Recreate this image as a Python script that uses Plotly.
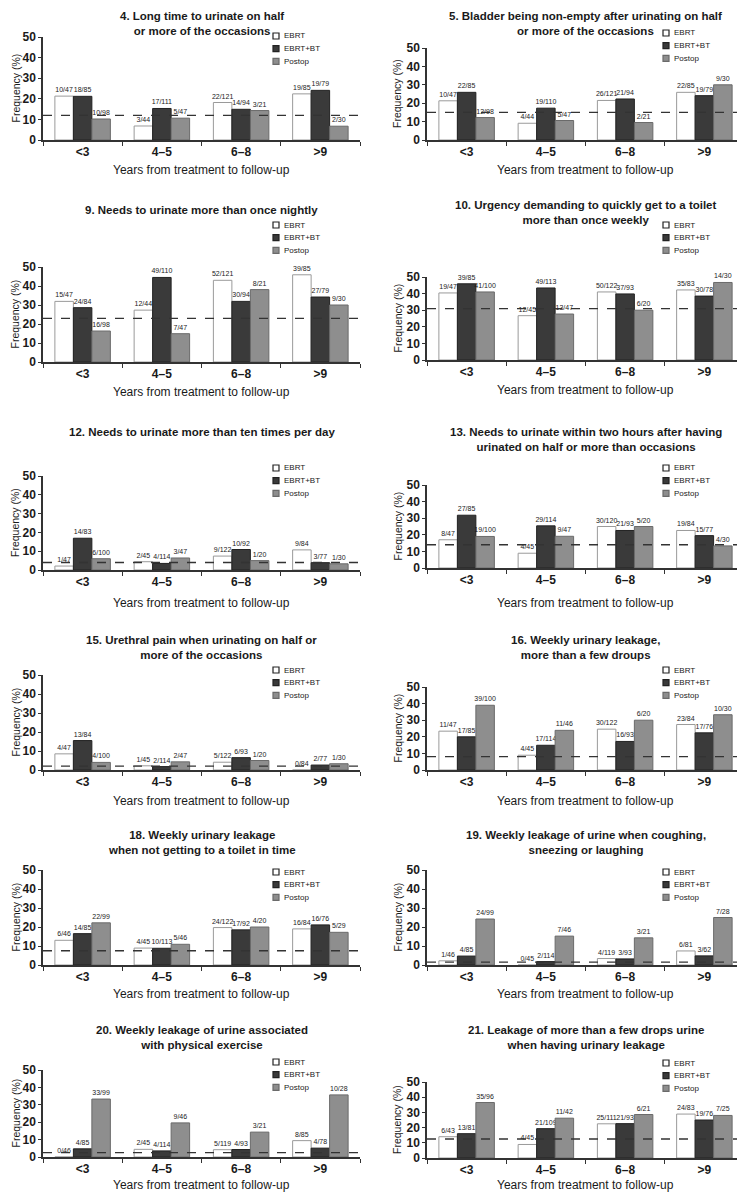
import plotly.graph_objects as go
from plotly.subplots import make_subplots

categories = ["<3", "4–5", "6–8", ">9"]
series_names = ["EBRT", "EBRT+BT", "Postop"]

# 4. Long time to urinate
q4_ebrt = [21.3, 6.8, 18.2, 22.4]
q4_ebrt_bt = [21.2, 15.3, 14.9, 24.1]
q4_postop = [10.2, 10.6, 14.3, 6.7]
q4_lab_ebrt = ["10/47", "3/44", "22/121", "19/85"]
q4_lab_ebrt_bt = ["18/85", "17/111", "14/94", "19/79"]
q4_lab_postop = ["10/98", "5/47", "3/21", "2/30"]
q4_ref = 12

# 5. Bladder non-empty
q5_ebrt = [21.3, 9.1, 21.5, 25.9]
q5_ebrt_bt = [25.9, 17.3, 22.3, 24.1]
q5_postop = [12.2, 10.6, 9.5, 30.0]
q5_lab_ebrt = ["10/47", "4/44", "26/121", "22/85"]
q5_lab_ebrt_bt = ["22/85", "19/110", "21/94", "19/79"]
q5_lab_postop = ["12/98", "5/47", "2/21", "9/30"]
q5_ref = 15

# 9. More than once nightly
q9_ebrt = [31.9, 27.3, 43.0, 45.9]
q9_ebrt_bt = [28.6, 44.5, 31.9, 34.2]
q9_postop = [16.3, 14.9, 38.1, 30.0]
q9_lab_ebrt = ["15/47", "12/44", "52/121", "39/85"]
q9_lab_ebrt_bt = ["24/84", "49/110", "30/94", "27/79"]
q9_lab_postop = ["16/98", "7/47", "8/21", "9/30"]
q9_ref = 23

# 10. Urgency
q10_ebrt = [40.4, 26.7, 41.0, 42.2]
q10_ebrt_bt = [45.9, 43.4, 39.8, 38.5]
q10_postop = [41.0, 27.7, 30.0, 46.7]
q10_lab_ebrt = ["19/47", "12/45", "50/122", "35/83"]
q10_lab_ebrt_bt = ["39/85", "49/113", "37/93", "30/78"]
q10_lab_postop = ["41/100", "13/47", "6/20", "14/30"]
q10_ref = 31

# 12. More than ten times per day
q12_ebrt = [2.1, 4.4, 7.4, 10.7]
q12_ebrt_bt = [16.9, 3.5, 10.9, 3.9]
q12_postop = [6.0, 6.4, 5.0, 3.3]
q12_lab_ebrt = ["1/47", "2/45", "9/122", "9/84"]
q12_lab_ebrt_bt = ["14/83", "4/114", "10/92", "3/77"]
q12_lab_postop = ["6/100", "3/47", "1/20", "1/30"]
q12_ref = 4

# 13. Within two hours
q13_ebrt = [17.0, 8.9, 25.0, 22.6]
q13_ebrt_bt = [31.8, 25.4, 22.6, 19.5]
q13_postop = [19.0, 19.1, 25.0, 13.3]
q13_lab_ebrt = ["8/47", "4/45", "30/120", "19/84"]
q13_lab_ebrt_bt = ["27/85", "29/114", "21/93", "15/77"]
q13_lab_postop = ["19/100", "9/47", "5/20", "4/30"]
q13_ref = 14

# 15. Urethral pain
q15_ebrt = [8.5, 2.2, 4.1, 0.0]
q15_ebrt_bt = [15.5, 1.8, 6.5, 2.6]
q15_postop = [4.0, 4.3, 5.0, 3.3]
q15_lab_ebrt = ["4/47", "1/45", "5/122", "0/84"]
q15_lab_ebrt_bt = ["13/84", "2/114", "6/93", "2/77"]
q15_lab_postop = ["4/100", "2/47", "1/20", "1/30"]
q15_ref = 2

# 16. Weekly leakage, more than a few droups
q16_ebrt = [23.4, 8.9, 24.6, 27.4]
q16_ebrt_bt = [20.0, 14.9, 17.2, 22.4]
q16_postop = [39.0, 23.9, 30.0, 33.3]
q16_lab_ebrt = ["11/47", "4/45", "30/122", "23/84"]
q16_lab_ebrt_bt = ["17/85", "17/114", "16/93", "17/76"]
q16_lab_postop = ["39/100", "11/46", "6/20", "10/30"]
q16_ref = 8

# 18. Not getting to a toilet in time
q18_ebrt = [13.0, 8.9, 19.7, 19.0]
q18_ebrt_bt = [16.5, 8.8, 18.5, 21.1]
q18_postop = [22.2, 10.9, 20.0, 17.2]
q18_lab_ebrt = ["6/46", "4/45", "24/122", "16/84"]
q18_lab_ebrt_bt = ["14/85", "10/113", "17/92", "16/76"]
q18_lab_postop = ["22/99", "5/46", "4/20", "5/29"]
q18_ref = 7.5

# 19. Coughing, sneezing or laughing
q19_ebrt = [2.2, 0.0, 3.4, 7.4]
q19_ebrt_bt = [4.7, 1.8, 3.2, 4.8]
q19_postop = [24.2, 15.2, 14.3, 25.0]
q19_lab_ebrt = ["1/46", "0/45", "4/119", "6/81"]
q19_lab_ebrt_bt = ["4/85", "2/114", "3/93", "3/62"]
q19_lab_postop = ["24/99", "7/46", "3/21", "7/28"]
q19_ref = 1.5

# 20. Physical exercise
q20_ebrt = [0.0, 4.4, 4.2, 9.4]
q20_ebrt_bt = [4.7, 3.5, 4.3, 5.1]
q20_postop = [33.3, 19.6, 14.3, 35.7]
q20_lab_ebrt = ["0/46", "2/45", "5/119", "8/85"]
q20_lab_ebrt_bt = ["4/85", "4/114", "4/93", "4/78"]
q20_lab_postop = ["33/99", "9/46", "3/21", "10/28"]
q20_ref = 2.5

# 21. More than a few drops
q21_ebrt = [14.0, 8.9, 22.5, 28.9]
q21_ebrt_bt = [16.0, 19.3, 22.6, 25.0]
q21_postop = [36.5, 26.2, 28.6, 28.0]
q21_lab_ebrt = ["6/43", "4/45", "25/111", "24/83"]
q21_lab_ebrt_bt = ["13/81", "21/109", "21/93", "19/76"]
q21_lab_postop = ["35/96", "11/42", "6/21", "7/25"]
q21_ref = 12.5

panels = [
    ("4. Long time to urinate on half<br>or more of the occasions",
     [q4_ebrt, q4_ebrt_bt, q4_postop], [q4_lab_ebrt, q4_lab_ebrt_bt, q4_lab_postop], q4_ref),
    ("5. Bladder being non-empty after urinating on half<br>or more of the occasions",
     [q5_ebrt, q5_ebrt_bt, q5_postop], [q5_lab_ebrt, q5_lab_ebrt_bt, q5_lab_postop], q5_ref),
    ("9. Needs to urinate more than once nightly",
     [q9_ebrt, q9_ebrt_bt, q9_postop], [q9_lab_ebrt, q9_lab_ebrt_bt, q9_lab_postop], q9_ref),
    ("10. Urgency demanding to quickly get to a toilet<br>more than once weekly",
     [q10_ebrt, q10_ebrt_bt, q10_postop], [q10_lab_ebrt, q10_lab_ebrt_bt, q10_lab_postop], q10_ref),
    ("12. Needs to urinate more than ten times per day",
     [q12_ebrt, q12_ebrt_bt, q12_postop], [q12_lab_ebrt, q12_lab_ebrt_bt, q12_lab_postop], q12_ref),
    ("13. Needs to urinate within two hours after having<br>urinated on half or more than occasions",
     [q13_ebrt, q13_ebrt_bt, q13_postop], [q13_lab_ebrt, q13_lab_ebrt_bt, q13_lab_postop], q13_ref),
    ("15. Urethral pain when urinating on half or<br>more of the occasions",
     [q15_ebrt, q15_ebrt_bt, q15_postop], [q15_lab_ebrt, q15_lab_ebrt_bt, q15_lab_postop], q15_ref),
    ("16. Weekly urinary leakage,<br>more than a few droups",
     [q16_ebrt, q16_ebrt_bt, q16_postop], [q16_lab_ebrt, q16_lab_ebrt_bt, q16_lab_postop], q16_ref),
    ("18. Weekly urinary leakage<br>when not getting to a toilet in time",
     [q18_ebrt, q18_ebrt_bt, q18_postop], [q18_lab_ebrt, q18_lab_ebrt_bt, q18_lab_postop], q18_ref),
    ("19. Weekly leakage of urine when coughing,<br>sneezing or laughing",
     [q19_ebrt, q19_ebrt_bt, q19_postop], [q19_lab_ebrt, q19_lab_ebrt_bt, q19_lab_postop], q19_ref),
    ("20. Weekly leakage of urine associated<br>with physical exercise",
     [q20_ebrt, q20_ebrt_bt, q20_postop], [q20_lab_ebrt, q20_lab_ebrt_bt, q20_lab_postop], q20_ref),
    ("21. Leakage of more than a few drops urine<br>when having urinary leakage",
     [q21_ebrt, q21_ebrt_bt, q21_postop], [q21_lab_ebrt, q21_lab_ebrt_bt, q21_lab_postop], q21_ref),
]

# page geometry in screen pixels: (x range, plot top, plot bottom, title centre, first legend row, x-title)
W, H = 745, 1194
PAGE_OFFSET = 8  # the html body margin moves the figure 8px right and down
LEFT = (43, 360)
RIGHT = (427, 744)
geometry = [
    (LEFT, 37, 140, None, 36, 170),
    (RIGHT, 48, 140, None, 33, 170),
    (LEFT, 267, 362, 210, 225, 392),
    (RIGHT, 277, 360, 213, 225, 390),
    (LEFT, 476, 570, 432, 468, 603),
    (RIGHT, 485, 568, 439, 468, 603),
    (LEFT, 675, 770, 647, 670, 801),
    (RIGHT, 687, 770, 647, 670, 801),
    (LEFT, 870, 965, 842, 872, 994),
    (RIGHT, 870, 965, 842, 872, 994),
    (LEFT, 1070, 1157, 1037, 1062, 1185),
    (RIGHT, 1082, 1158, 1037, 1063, 1185),
]

fills = ["#ffffff", "#3a3a3a", "#8e8e8e"]
edges = ["#9a9a9a", "#222222", "#6a6a6a"]
FONT = "Liberation Sans, Arial, sans-serif"


def fx(px):
    return (px - PAGE_OFFSET) / W


def fy(px):
    return 1 - (px - PAGE_OFFSET) / H


fig = make_subplots(rows=6, cols=2)
shapes = []
annotations = []

for i, ((title, values, labels, ref), geo) in enumerate(zip(panels, geometry)):
    n = i + 1
    row, col = i // 2 + 1, i % 2 + 1
    (x0, x1), ytop, ybot, ytitle, yleg, yxt = geo

    for k in range(3):
        fig.add_trace(
            go.Bar(
                x=categories,
                y=values[k],
                name=series_names[k],
                text=labels[k],
                textposition="outside",
                constraintext="none",
                cliponaxis=False,
                textfont=dict(size=7, color="#1a1a1a", family=FONT),
                marker=dict(color=fills[k], line=dict(color=edges[k], width=1)),
                showlegend=False,
                hoverinfo="skip",
            ),
            row=row, col=col,
        )

    sx = "" if n == 1 else str(n)
    fig.update_layout({
        f"xaxis{sx}": dict(
            domain=[fx(x0), fx(x1)], type="category", range=[-0.5, 3.5],
            showline=True, linecolor="#333333", linewidth=1.5,
            ticks="outside", tickson="boundaries", ticklen=4, tickcolor="#333333",
            tickfont=dict(size=12, color="#1a1a1a", family=FONT, weight="bold"),
            showgrid=False, zeroline=False, fixedrange=True, automargin=False,
        ),
        f"yaxis{sx}": dict(
            domain=[fy(ybot), fy(ytop)], range=[0, 50], dtick=10,
            showline=True, linecolor="#333333", linewidth=1.5,
            ticks="outside", ticklen=3, tickcolor="#333333",
            tickfont=dict(size=12, color="#1a1a1a", family=FONT, weight="bold"),
            showgrid=False, zeroline=False, fixedrange=True, automargin=False,
        ),
    })

    # reference level
    shapes.append(dict(
        type="line", xref=f"x{sx} domain", yref=f"y{sx}",
        x0=0, x1=1, y0=ref, y1=ref,
        line=dict(color="#333333", width=1.3, dash="dash"),
    ))

    cx = (x0 + x1) / 2
    if ytitle is None:
        # top row: title sits right at the top edge of the page
        annotations.append(dict(
            text=f"<b>{title}</b>", x=fx(cx), y=1, xref="paper", yref="paper",
            xanchor="center", yanchor="top", showarrow=False,
            font=dict(size=11.5, color="#1a1a1a", family=FONT),
        ))
    else:
        annotations.append(dict(
            text=f"<b>{title}</b>", x=fx(cx), y=fy(ytitle), xref="paper", yref="paper",
            xanchor="center", yanchor="middle", showarrow=False,
            font=dict(size=11.5, color="#1a1a1a", family=FONT),
        ))
    annotations.append(dict(
        text="Years from treatment to follow-up", x=fx(cx), y=fy(yxt),
        xref="paper", yref="paper", xanchor="center", yanchor="middle", showarrow=False,
        font=dict(size=12, color="#1a1a1a", family=FONT),
    ))
    annotations.append(dict(
        text="Frequency (%)", x=fx(15 if col == 1 else 397), y=fy((ytop + ybot) / 2),
        xref="paper", yref="paper", xanchor="center", yanchor="middle", textangle=-90,
        showarrow=False, font=dict(size=10.5, color="#1a1a1a", family=FONT),
    ))

    # legend box
    lx = 273 if col == 1 else 663
    for k in range(3):
        yy = yleg + k * 12.7
        shapes.append(dict(
            type="rect", xref="paper", yref="paper",
            x0=fx(lx), x1=fx(lx + 6), y0=fy(yy + 3), y1=fy(yy - 3),
            fillcolor=fills[k], line=dict(color="#222222" if k == 0 else edges[k], width=1.2),
        ))
        annotations.append(dict(
            text=series_names[k], x=fx(lx + 9), y=fy(yy), xref="paper", yref="paper",
            xanchor="left", yanchor="middle", showarrow=False,
            font=dict(size=8, color="#1a1a1a", family=FONT),
        ))

fig.update_layout(
    width=W, height=H,
    margin=dict(l=0, r=0, t=0, b=0),
    barmode="group", bargap=0.3, bargroupgap=0,
    plot_bgcolor="white", paper_bgcolor="white",
    shapes=shapes, annotations=annotations,
    showlegend=False,
    font=dict(family=FONT),
)

fig.write_html("out.html")
